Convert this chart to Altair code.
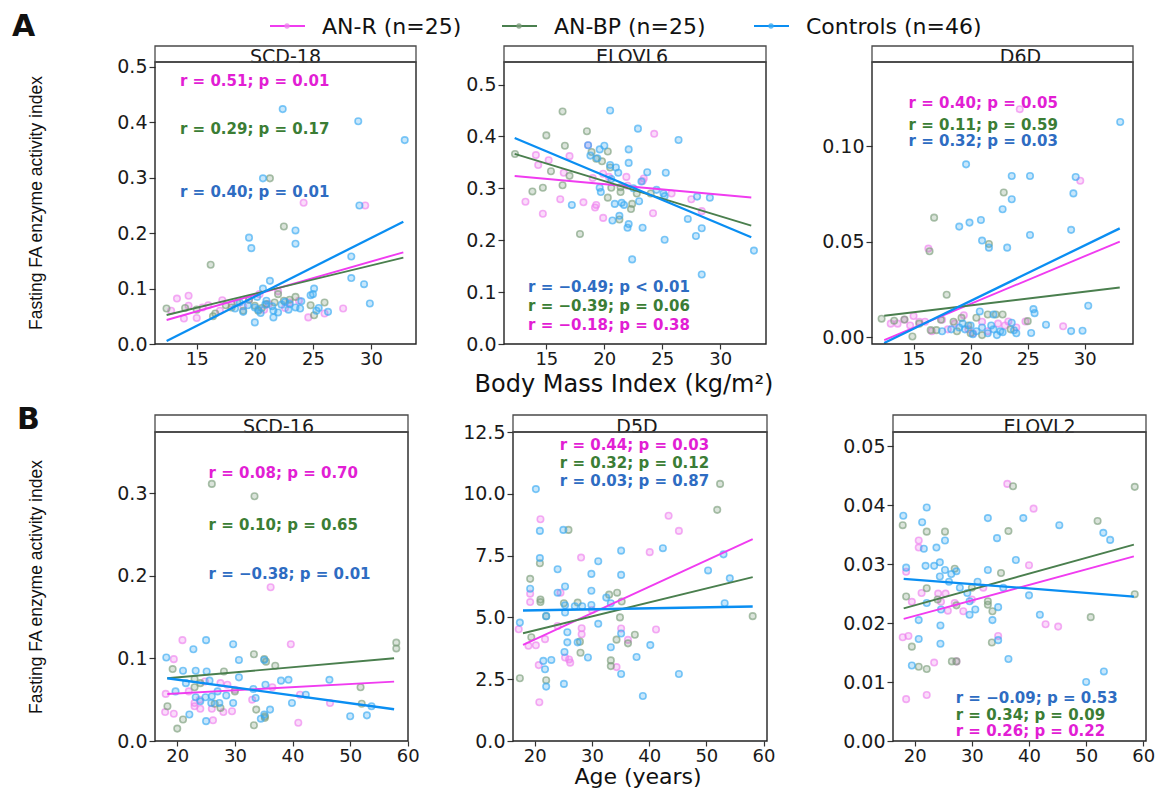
import altair as alt
import pandas as pd

# ---------------- data ----------------
GROUPS = ["AN-R", "AN-BP", "Controls"]
LEGEND_LABELS = ["AN-R (n=25)", "AN-BP (n=25)", "Controls (n=46)"]
PANEL_TITLES = ["SCD-18", "ELOVL6", "D6D", "SCD-16", "D5D", "ELOVL2"]
X_TITLE_A = "Body Mass Index (kg/m²)"
X_TITLE_B = "Age (years)"
Y_TITLE = "Fasting FA enzyme activity index"

# SCD-18 vs BMI
SCD18_R = [(24.2, 0.255), (29.5, 0.250), (13.3, 0.082), (14.3, 0.087), (13.9, 0.046), (15.0, 0.047),
           (14.3, 0.069), (16.0, 0.070), (17.2, 0.079), (27.6, 0.064), (24.6, 0.048), (19.5, 0.080),
           (21.2, 0.072), (23.0, 0.075), (20.4, 0.090), (18.0, 0.072), (22.0, 0.095), (15.5, 0.066),
           (20.8, 0.062), (17.0, 0.060), (23.8, 0.078), (19.0, 0.068), (26.0, 0.055), (12.8, 0.060),
           (22.6, 0.065)]
SCD18_BP = [(21.3, 0.299), (22.5, 0.212), (16.2, 0.143), (12.4, 0.064), (16.6, 0.055), (25.1, 0.052),
            (21.7, 0.075), (22.5, 0.078), (20.6, 0.065), (20.3, 0.060), (16.4, 0.050), (18.5, 0.075),
            (24.8, 0.070), (19.5, 0.080), (21.0, 0.072), (23.0, 0.080), (17.5, 0.070), (15.0, 0.062),
            (14.0, 0.065), (20.0, 0.069), (22.0, 0.090), (26.0, 0.075), (18.0, 0.066), (23.5, 0.085),
            (19.0, 0.060)]
SCD18_C = [(22.4, 0.424), (28.9, 0.402), (32.9, 0.368), (20.7, 0.299), (29.0, 0.250), (23.5, 0.205),
           (19.5, 0.192), (19.7, 0.173), (23.5, 0.181), (28.3, 0.158), (21.3, 0.114), (28.3, 0.119),
           (29.4, 0.108), (29.9, 0.073), (25.1, 0.100), (24.8, 0.088), (20.7, 0.100), (20.0, 0.039),
           (19.0, 0.058), (18.3, 0.064), (20.3, 0.062), (21.5, 0.068), (22.3, 0.071), (23.0, 0.072),
           (21.6, 0.060), (22.0, 0.057), (21.6, 0.048), (20.5, 0.056), (20.0, 0.066), (23.5, 0.066),
           (23.9, 0.064), (26.3, 0.058), (25.5, 0.065), (25.3, 0.060), (21.0, 0.078), (22.6, 0.076),
           (19.4, 0.070), (20.9, 0.071), (24.0, 0.077), (18.7, 0.075), (22.9, 0.062), (20.2, 0.085),
           (25.0, 0.090)]

# ELOVL6 vs BMI
ELOVL6_R = [(24.3, 0.405), (18.6, 0.383), (14.1, 0.364), (14.3, 0.345), (15.2, 0.354), (17.0, 0.362),
            (13.2, 0.274), (16.2, 0.279), (14.7, 0.251), (18.2, 0.273), (19.2, 0.263), (19.3, 0.268),
            (19.9, 0.243), (21.9, 0.322), (23.4, 0.319), (23.3, 0.314), (24.2, 0.252), (27.5, 0.279),
            (28.4, 0.256), (19.9, 0.328), (20.4, 0.322), (22.0, 0.305), (19.0, 0.320), (16.5, 0.330),
            (25.8, 0.290)]
ELOVL6_BP = [(16.4, 0.448), (15.0, 0.402), (18.5, 0.410), (16.6, 0.382), (20.3, 0.371), (12.3, 0.366),
             (15.4, 0.333), (17.0, 0.324), (13.8, 0.294), (14.7, 0.301), (16.4, 0.306), (17.9, 0.212),
             (20.3, 0.282), (20.6, 0.301), (21.4, 0.302), (21.4, 0.293), (22.4, 0.270), (22.3, 0.260),
             (21.3, 0.240), (18.9, 0.370), (19.3, 0.357), (19.8, 0.352), (20.5, 0.340), (22.8, 0.290),
             (24.0, 0.290)]
ELOVL6_C = [(20.5, 0.450), (22.9, 0.415), (26.4, 0.393), (18.6, 0.383), (20.0, 0.382), (19.6, 0.375),
            (18.8, 0.363), (19.4, 0.358), (22.1, 0.375), (22.1, 0.349), (21.5, 0.272), (20.9, 0.270),
            (21.7, 0.268), (23.2, 0.313), (23.7, 0.331), (25.3, 0.330), (25.1, 0.290), (25.2, 0.285),
            (17.2, 0.268), (21.3, 0.247), (20.7, 0.238), (22.1, 0.231), (22.0, 0.224), (23.3, 0.224),
            (25.2, 0.201), (22.4, 0.163), (28.4, 0.134), (28.0, 0.284), (29.1, 0.282), (27.2, 0.241),
            (28.4, 0.223), (27.9, 0.208), (32.9, 0.180), (19.6, 0.301), (19.7, 0.293), (20.5, 0.345),
            (21.0, 0.340), (20.6, 0.318), (22.5, 0.300), (24.5, 0.297), (21.2, 0.330), (23.0, 0.275)]

# D6D vs BMI
D6D_R = [(24.3, 0.1193), (29.6, 0.0818), (16.3, 0.0463), (13.0, 0.0070), (13.6, 0.0070), (14.7, 0.0060),
         (15.5, 0.0080), (19.4, 0.0114), (23.3, 0.0081), (24.8, 0.0081), (28.1, 0.0056), (16.0, 0.0080),
         (16.6, 0.0030), (18.0, 0.0040), (20.2, 0.0020), (21.0, 0.0080), (22.4, 0.0070), (17.5, 0.0090),
         (14.2, 0.0090), (19.8, 0.0040), (23.0, 0.0060), (21.5, 0.0030), (18.6, 0.0070), (24.0, 0.0050),
         (15.0, 0.0110)]
D6D_BP = [(22.9, 0.0757), (16.8, 0.0625), (21.6, 0.0487), (16.4, 0.0449), (17.9, 0.0221), (12.2, 0.0096),
          (14.2, 0.0092), (14.9, 0.0003), (16.5, 0.0036), (17.0, 0.0036), (20.5, 0.0101), (21.5, 0.0118),
          (22.2, 0.0118), (22.8, 0.0118), (25.0, 0.0083), (18.5, 0.0080), (19.8, 0.0060), (15.5, 0.0070),
          (13.3, 0.0085), (20.0, 0.0020), (21.0, 0.0010), (18.8, 0.0030), (23.5, 0.0040), (17.4, 0.0090),
          (19.2, 0.0100)]
D6D_C = [(33.1, 0.1126), (19.6, 0.0904), (23.6, 0.0843), (25.2, 0.0843), (29.2, 0.0838), (29.0, 0.0752),
         (23.6, 0.0721), (22.8, 0.0669), (19.0, 0.0578), (19.9, 0.0599), (20.9, 0.0613), (21.0, 0.0505),
         (21.6, 0.0468), (23.2, 0.0468), (28.8, 0.0561), (25.2, 0.0534), (20.8, 0.0134), (30.3, 0.0164),
         (25.5, 0.0146), (25.6, 0.0125), (22.0, 0.0118), (23.6, 0.0075), (26.6, 0.0064), (28.8, 0.0031),
         (29.8, 0.0033), (25.3, 0.0021), (19.0, 0.0050), (19.5, 0.0040), (20.0, 0.0060), (20.5, 0.0030),
         (21.0, 0.0050), (21.5, 0.0020), (22.0, 0.0040), (22.3, 0.0010), (22.6, 0.0030), (18.3, 0.0040),
         (20.2, 0.0015), (21.8, 0.0060), (17.5, 0.0030), (22.8, 0.0025), (23.8, 0.0035), (24.0, 0.0020),
         (19.3, 0.0070)]

# SCD-16 vs age
SCD16_R = [(36.2, 0.186), (20.9, 0.122), (19.4, 0.099), (39.7, 0.117), (24.8, 0.072), (28.7, 0.068),
           (18.0, 0.057), (23.9, 0.050), (23.0, 0.046), (24.0, 0.039), (26.0, 0.039), (17.9, 0.035),
           (19.4, 0.033), (41.3, 0.056), (46.5, 0.046), (26.2, 0.025), (41.0, 0.022), (28.0, 0.035),
           (29.5, 0.036), (33.0, 0.050), (36.5, 0.065), (22.0, 0.060), (30.0, 0.062), (27.5, 0.070),
           (23.0, 0.042)]
SCD16_BP = [(26.0, 0.311), (33.4, 0.296), (58.0, 0.119), (58.0, 0.112), (33.3, 0.105), (35.1, 0.099),
            (35.4, 0.096), (37.0, 0.091), (19.2, 0.087), (28.1, 0.084), (23.0, 0.075), (23.0, 0.065),
            (51.8, 0.065), (18.3, 0.042), (27.5, 0.040), (33.7, 0.038), (35.2, 0.030), (35.2, 0.028),
            (21.0, 0.026), (20.0, 0.015), (33.3, 0.019), (52.0, 0.045), (24.0, 0.070), (30.0, 0.060),
            (26.5, 0.045)]
SCD16_C = [(25.0, 0.122), (18.1, 0.101), (22.8, 0.111), (29.7, 0.117), (30.7, 0.098), (21.0, 0.085),
           (23.2, 0.085), (25.1, 0.084), (30.7, 0.077), (25.6, 0.073), (38.0, 0.073), (39.3, 0.074),
           (46.4, 0.074), (35.3, 0.068), (33.2, 0.063), (19.7, 0.060), (23.2, 0.053), (24.9, 0.053),
           (26.0, 0.054), (25.9, 0.046), (27.3, 0.046), (29.7, 0.046), (33.6, 0.052), (42.3, 0.056),
           (39.9, 0.046), (36.1, 0.038), (35.1, 0.032), (22.1, 0.032), (25.0, 0.024), (50.0, 0.030),
           (52.9, 0.031), (53.7, 0.042), (35.1, 0.098), (24.0, 0.048), (27.0, 0.060), (34.5, 0.027),
           (21.5, 0.070), (28.5, 0.055)]

# D5D vs age
D5D_R = [(21.0, 8.97), (43.4, 9.11), (45.2, 8.50), (40.1, 7.64), (28.1, 7.42), (19.2, 5.96), (19.2, 5.62),
         (17.2, 4.52), (28.2, 4.56), (28.2, 4.32), (18.9, 3.85), (20.2, 3.87), (21.8, 4.12), (35.1, 4.55),
         (36.3, 4.09), (41.2, 4.51), (25.3, 3.38), (26.2, 3.17), (20.7, 3.07), (34.3, 2.99), (20.8, 1.57),
         (24.0, 4.65), (26.0, 3.30), (30.0, 5.30), (24.5, 6.00)]
D5D_BP = [(52.4, 10.40), (51.9, 9.35), (25.9, 8.54), (20.9, 7.19), (19.2, 6.56), (33.0, 5.92), (34.4, 6.00),
          (21.0, 5.72), (21.0, 5.62), (25.1, 5.57), (35.2, 5.64), (58.1, 5.05), (34.9, 5.00), (19.4, 4.20),
          (27.9, 4.02), (34.3, 4.10), (36.3, 3.95), (37.5, 4.30), (28.0, 3.57), (33.3, 3.26), (33.3, 3.03),
          (17.4, 2.54), (22.0, 2.46), (27.5, 5.60), (22.0, 5.05)]
D5D_C = [(20.2, 10.19), (20.9, 8.50), (25.0, 8.54), (42.4, 7.80), (35.1, 7.70), (20.9, 7.40), (31.1, 7.27),
         (24.0, 6.95), (29.9, 6.76), (35.1, 6.72), (50.3, 6.90), (54.1, 6.58), (19.2, 6.16), (25.3, 6.25),
         (29.9, 6.08), (24.0, 6.00), (25.3, 5.49), (25.3, 5.20), (27.0, 5.45), (28.3, 5.45), (29.9, 5.50),
         (33.3, 5.57), (53.2, 5.57), (17.4, 4.79), (31.1, 4.74), (25.7, 4.40), (25.7, 3.99), (27.5, 3.99),
         (35.1, 4.35), (33.3, 3.79), (40.2, 3.88), (25.2, 3.60), (29.3, 3.38), (21.5, 3.24), (21.8, 2.90),
         (22.9, 3.28), (37.8, 3.40), (35.1, 2.71), (45.2, 2.71), (22.0, 2.20), (25.1, 2.31), (38.9, 1.82),
         (22.0, 5.05), (53.0, 7.55), (32.5, 5.80)]

# ELOVL2 vs age
ELOVL2_R = [(36.2, 0.0436), (40.8, 0.0394), (20.7, 0.0340), (20.7, 0.0328), (40.0, 0.0298), (18.5, 0.0287),
            (21.2, 0.0251), (24.1, 0.0250), (25.4, 0.0250), (19.5, 0.0236), (24.6, 0.0236), (27.0, 0.0234),
            (25.8, 0.0221), (42.9, 0.0198), (45.1, 0.0194), (17.9, 0.0176), (18.9, 0.0178), (34.6, 0.0178),
            (27.3, 0.0135), (23.4, 0.0133), (22.1, 0.0078), (18.5, 0.0071), (30.0, 0.0240), (32.0, 0.0260),
            (28.5, 0.0220)]
ELOVL2_BP = [(37.2, 0.0432), (58.5, 0.0431), (17.9, 0.0366), (52.0, 0.0373), (22.1, 0.0355), (25.3, 0.0355),
             (36.4, 0.0356), (27.0, 0.0292), (35.1, 0.0285), (22.1, 0.0259), (18.5, 0.0245), (58.5, 0.0249),
             (32.8, 0.0237), (32.8, 0.0231), (27.3, 0.0230), (33.6, 0.0220), (50.8, 0.0210), (33.5, 0.0167),
             (19.5, 0.0160), (26.5, 0.0135), (27.3, 0.0135), (20.7, 0.0126), (22.1, 0.0122), (30.0, 0.0260),
             (24.0, 0.0240)]
ELOVL2_C = [(22.1, 0.0396), (18.0, 0.0382), (32.8, 0.0378), (39.0, 0.0378), (45.3, 0.0366), (21.3, 0.0371),
            (53.0, 0.0353), (54.2, 0.0341), (25.3, 0.0340), (34.4, 0.0344), (21.6, 0.0326), (23.8, 0.0328),
            (24.4, 0.0303), (24.4, 0.0279), (37.7, 0.0307), (21.9, 0.0297), (23.4, 0.0297), (18.5, 0.0294),
            (25.3, 0.0290), (26.4, 0.0283), (27.3, 0.0288), (32.8, 0.0290), (31.0, 0.0270), (27.9, 0.0260),
            (29.2, 0.0251), (40.0, 0.0247), (22.1, 0.0234), (29.6, 0.0237), (24.6, 0.0223), (30.6, 0.0223),
            (34.6, 0.0227), (29.6, 0.0214), (41.9, 0.0214), (33.6, 0.0205), (20.7, 0.0205), (24.5, 0.0196),
            (34.6, 0.0171), (20.7, 0.0173), (24.5, 0.0165), (36.4, 0.0139), (19.5, 0.0128), (53.1, 0.0118),
            (50.0, 0.0100), (26.0, 0.0270), (35.5, 0.0260)]

POINTS = [
    {"AN-R": SCD18_R, "AN-BP": SCD18_BP, "Controls": SCD18_C},
    {"AN-R": ELOVL6_R, "AN-BP": ELOVL6_BP, "Controls": ELOVL6_C},
    {"AN-R": D6D_R, "AN-BP": D6D_BP, "Controls": D6D_C},
    {"AN-R": SCD16_R, "AN-BP": SCD16_BP, "Controls": SCD16_C},
    {"AN-R": D5D_R, "AN-BP": D5D_BP, "Controls": D5D_C},
    {"AN-R": ELOVL2_R, "AN-BP": ELOVL2_BP, "Controls": ELOVL2_C},
]

# regression lines: (x0, y0, x1, y1)
FITS = [
    {"AN-R": (12.41, 0.0433, 32.78, 0.1655), "AN-BP": (12.41, 0.0523, 32.78, 0.1558), "Controls": (12.41, 0.0054, 32.78, 0.2208)},
    {"AN-R": (12.27, 0.3237, 32.67, 0.2822), "AN-BP": (12.27, 0.3664, 32.67, 0.2280), "Controls": (12.27, 0.3970, 32.67, 0.2057)},
    {"AN-R": (12.43, -0.0016, 33.06, 0.0500), "AN-BP": (12.43, 0.0111, 33.06, 0.0259), "Controls": (12.43, -0.0031, 33.06, 0.0569)},
    {"AN-R": (18.27, 0.0569, 57.62, 0.0718), "AN-BP": (18.27, 0.0759, 57.62, 0.1001), "Controls": (18.27, 0.0759, 57.62, 0.0384)},
    {"AN-R": (17.95, 3.89, 58.1, 8.17), "AN-BP": (17.95, 4.36, 58.1, 6.63), "Controls": (17.95, 5.28, 58.1, 5.44)},
    {"AN-R": (18.07, 0.0207, 58.35, 0.0313), "AN-BP": (18.07, 0.0225, 58.35, 0.0333), "Controls": (18.07, 0.0275, 58.35, 0.0245)},
]

# correlation annotations: (group, text, x, y)
ANNOTS = [
    [("AN-R", "r = 0.51; p = 0.01", 13.56, 0.4747), ("AN-BP", "r = 0.29; p = 0.17", 13.56, 0.388),
     ("Controls", "r = 0.40; p = 0.01", 13.56, 0.2744)],
    [("Controls", "r = −0.49; p < 0.01", 13.42, 0.1096), ("AN-BP", "r = −0.39; p = 0.06", 13.42, 0.0738),
     ("AN-R", "r = −0.18; p = 0.38", 13.42, 0.0369)],
    [("AN-R", "r = 0.40; p = 0.05", 14.56, 0.1226), ("AN-BP", "r = 0.11; p = 0.59", 14.56, 0.1109),
     ("Controls", "r = 0.32; p = 0.03", 14.56, 0.1027)],
    [("AN-R", "r = 0.08; p = 0.70", 25.43, 0.3248), ("AN-BP", "r = 0.10; p = 0.65", 25.43, 0.2615),
     ("Controls", "r = −0.38; p = 0.01", 25.43, 0.2022)],
    [("AN-R", "r = 0.44; p = 0.03", 24.38, 11.98), ("AN-BP", "r = 0.32; p = 0.12", 24.38, 11.24),
     ("Controls", "r = 0.03; p = 0.87", 24.38, 10.50)],
    [("Controls", "r = −0.09; p = 0.53", 27.18, 0.00736), ("AN-BP", "r = 0.34; p = 0.09", 27.18, 0.00442),
     ("AN-R", "r = 0.26; p = 0.22", 27.18, 0.00175)],
]

X_DOMAINS = [(11.41, 33.87), (11.35, 33.94), (11.36, 34.22), (16.14, 60.03), (16.2, 60.6), (16.2, 60.47)]
Y_DOMAINS = [(0, 0.509), (0, 0.5434), (-0.00366, 0.144), (0, 0.3738), (0, 12.5), (0, 0.0524)]
X_TICKS_A = [15, 20, 25, 30]
X_TICKS_B = [20, 30, 40, 50, 60]
Y_TICKS = [[0, 0.1, 0.2, 0.3, 0.4, 0.5], [0, 0.1, 0.2, 0.3, 0.4, 0.5], [0, 0.05, 0.10],
           [0, 0.1, 0.2, 0.3], [0, 2.5, 5, 7.5, 10, 12.5], [0, 0.01, 0.02, 0.03, 0.04, 0.05]]
Y_FORMATS = [".1f", ".1f", ".2f", ".1f", ".1f", ".2f"]

# ---------------- styles / layout (pixels, relative to the plot origin) ----------------
POINT_COLORS = {"AN-R": "#EE82EE", "AN-BP": "#7D9E7D", "Controls": "#3AAAF2"}
LINE_COLORS = {"AN-R": "#F03CF0", "AN-BP": "#4A7F4E", "Controls": "#0A8EF2"}
TEXT_COLORS = {"AN-R": "#E21ED4", "AN-BP": "#3B7D35", "Controls": "#2E6CC2"}
VIEW_W, VIEW_H = 991, 679
PX = [(0, 261), (349, 611), (717, 978), (0, 253), (358, 612), (738, 991)]
PY = [(0, 282), (0, 282), (0, 282), (370, 679), (370, 679), (370, 679)]
STRIP_H = [16, 16, 16, 17, 17, 17]
STRIP_DX = [0, -3, 18, -3, -3, 20]
FONT = "DejaVu Sans"
ONE = pd.DataFrame({"a": [0]})


def txt(text, x, y, size, weight="normal", angle=0, align="left", baseline="alphabetic", font=FONT, color="#111"):
    return alt.Chart(ONE).mark_text(
        text=text, font=font, fontSize=size, fontWeight=weight, angle=angle, align=align,
        baseline=baseline, color=color).encode(x=alt.value(x), y=alt.value(y))


def box(x0, x1, y0, y1, stroke, sw):
    return alt.Chart(ONE).mark_rect(fill="white", fillOpacity=0, stroke=stroke, strokeWidth=sw).encode(
        x=alt.value(x0), x2=alt.value(x1), y=alt.value(y0), y2=alt.value(y1))


def panel_layers(i):
    x0, x1 = PX[i]
    y0, y1 = PY[i]
    xs = alt.Scale(domain=list(X_DOMAINS[i]), range=[x0, x1], nice=False, zero=False)
    ys = alt.Scale(domain=list(Y_DOMAINS[i]), range=[y1, y0], nice=False, zero=False)
    xax = alt.Axis(values=X_TICKS_A if i < 3 else X_TICKS_B, format="d", title=None, orient="bottom",
                   offset=y1 - VIEW_H, labelFlush=False, labelOverlap=False, labelFontSize=18,
                   labelPadding=1, tickSize=5)
    yax = alt.Axis(values=Y_TICKS[i], format=Y_FORMATS[i], title=None, orient="left",
                   offset=-x0, labelFlush=False, labelOverlap=False)
    layers = []
    first = True
    for g in GROUPS:
        df = pd.DataFrame(POINTS[i][g], columns=["x", "y"])
        layers.append(alt.Chart(df).mark_circle(
            size=42, fill=POINT_COLORS[g], fillOpacity=0.28, stroke=POINT_COLORS[g],
            strokeWidth=1.6, strokeOpacity=0.65).encode(
            x=alt.X("x:Q", scale=xs, axis=xax if first else None),
            y=alt.Y("y:Q", scale=ys, axis=yax if first else None)))
        first = False
    for g in GROUPS:
        a, b, c, d = FITS[i][g]
        df = pd.DataFrame({"x": [a, c], "y": [b, d]})
        layers.append(alt.Chart(df).mark_line(
            color=LINE_COLORS[g], strokeWidth=2.3 if g == "Controls" else 1.9).encode(
            x=alt.X("x:Q", scale=xs, axis=None), y=alt.Y("y:Q", scale=ys, axis=None)))
    for g, t, tx, ty in ANNOTS[i]:
        df = pd.DataFrame({"x": [tx], "y": [ty], "t": [t]})
        layers.append(alt.Chart(df).mark_text(
            align="left", baseline="middle", font=FONT, fontWeight="bold", fontSize=15,
            color=TEXT_COLORS[g]).encode(
            x=alt.X("x:Q", scale=xs, axis=None), y=alt.Y("y:Q", scale=ys, axis=None), text="t:N"))
    # frame, strip and its title
    layers.append(box(x0, x1, y0, y1, "#222", 1.4))
    layers.append(txt(PANEL_TITLES[i], (x0 + x1) / 2 + STRIP_DX[i], y0 + 1, 19, align="center",
                      color="#1a1a1a"))
    layers.append(box(x0, x1, y0 - STRIP_H[i], y0, "#4a4a4a", 1.3))
    return layers


all_layers = []
for i in range(6):
    all_layers.extend(panel_layers(i))

# legend at top
LEG_X = [115, 347, 599]
for g, lab, lx in zip(GROUPS, LEGEND_LABELS, LEG_X):
    all_layers.append(alt.Chart(ONE).mark_rule(color=LINE_COLORS[g], strokeWidth=2).encode(
        x=alt.value(lx), x2=alt.value(lx + 35), y=alt.value(-36)))
    all_layers.append(alt.Chart(ONE).mark_circle(size=28, color=POINT_COLORS[g], opacity=0.8).encode(
        x=alt.value(lx + 17), y=alt.value(-36)))
    all_layers.append(txt(lab, lx + 52, -28, 22))

# panel letters and axis titles
all_layers += [
    txt("A", -143, -26, 30, weight="bold"),
    txt("B", -138, 367, 30, weight="bold"),
    txt(Y_TITLE, -118, 141, 17.5, angle=270, align="center", baseline="middle", font="Liberation Sans"),
    txt(Y_TITLE, -118, 525, 17.5, angle=270, align="center", baseline="middle", font="Liberation Sans"),
    txt(X_TITLE_A, 469, 330, 24, align="center"),
    txt(X_TITLE_B, 483, 722, 22, align="center"),
]

chart = alt.layer(*all_layers).resolve_scale(
    x="independent", y="independent"
).resolve_axis(
    x="independent", y="independent"
).properties(
    width=VIEW_W, height=VIEW_H, background="white",
    padding={"left": 147, "top": 54, "right": 9, "bottom": 50},
    autosize=alt.AutoSizeParams(type="none"),
).configure_view(
    strokeOpacity=0
).configure_axis(
    labelFont=FONT, labelFontSize=19, labelColor="#1a1a1a", tickColor="#333", tickSize=6,
    tickWidth=1.2, domain=False, grid=False, labelPadding=2
)

chart.save("out.html", embed_options={"renderer": "svg", "actions": False})
